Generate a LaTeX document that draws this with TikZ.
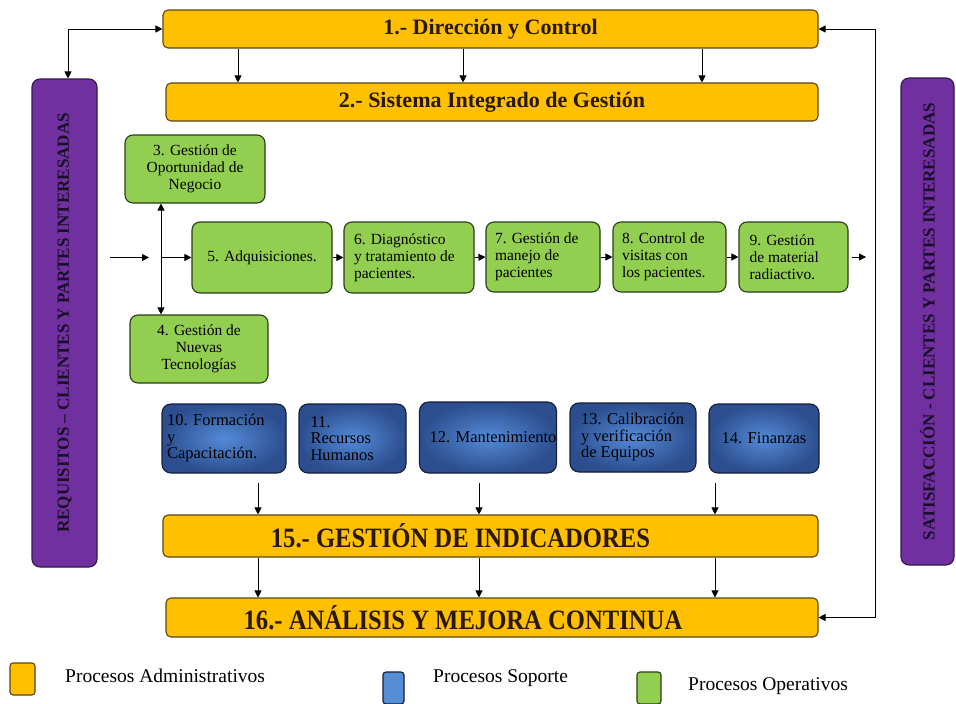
\documentclass[tikz,border=0pt]{standalone}
\usepackage{fontspec}
\setmainfont{Liberation Serif}
\usetikzlibrary{arrows.meta}

\definecolor{admfill}{RGB}{255,192,0}
\definecolor{admline}{RGB}{90,70,20}
\definecolor{admtext}{RGB}{40,24,5}
\definecolor{opfill}{RGB}{146,206,80}
\definecolor{opline}{RGB}{45,60,25}
\definecolor{sopdark}{RGB}{44,78,142}
\definecolor{soplight}{RGB}{84,138,216}
\definecolor{sopline}{RGB}{20,30,55}
\definecolor{soplegend}{RGB}{85,142,213}
\definecolor{reqfill}{RGB}{112,48,160}
\definecolor{reqline}{RGB}{50,25,70}
\definecolor{reqtext}{RGB}{25,15,40}

\tikzset{
  admbox/.style={draw=admline, fill=admfill, line width=1.1pt, rounded corners=5pt,
    inner sep=0pt, text=admtext, font=\fontsize{22}{24}\selectfont\bfseries},
  bigadm/.style={admbox, font=\fontsize{28}{30}\selectfont\bfseries},
  opbox/.style={draw=opline, fill=opfill, line width=1.1pt, rounded corners=8pt,
    inner sep=0pt, font=\fontsize{15.5}{17}\selectfont},
  sopbox/.style={draw=sopline, inner color=soplight, outer color=sopdark,
    line width=1.1pt, rounded corners=9pt,
    inner sep=0pt, font=\fontsize{16.5}{16.5}\selectfont},
  sidebox/.style={draw=reqline, fill=reqfill, line width=1.1pt, rounded corners=8pt,
    inner sep=0pt},
  sidetext/.style={rotate=90, text=reqtext, font=\fontsize{17}{18}\selectfont\bfseries},
  flow/.style={-{Triangle[length=7pt,width=7pt]}, line width=0.8pt},
  flowboth/.style={{Triangle[length=7pt,width=7pt]}-{Triangle[length=7pt,width=7pt]}, line width=0.8pt},
  legendbox/.style={draw=admline, line width=1.1pt, rounded corners=3pt, inner sep=0pt},
  legendtext/.style={anchor=west, inner sep=0pt, font=\fontsize{19.5}{21}\selectfont},
}

\begin{document}
\begin{tikzpicture}[x=1pt, y=-1pt]
\useasboundingbox[fill=white] (0,0) rectangle (956,704);

% administrative bands
\node[admbox, minimum width=655pt, minimum height=38pt] (b1) at (490.5,29) {1.- Dirección y Control};
\node[admbox, minimum width=652pt, minimum height=38pt] (b2) at (492,102) {2.- Sistema Integrado de Gestión};
\node[bigadm, minimum width=655pt, minimum height=42pt] (b15) at (490.5,536)
  {\hspace*{-60pt}\scalebox{0.88}[1]{15.- GESTIÓN DE INDICADORES}};
\node[bigadm, minimum width=652pt, minimum height=39pt] (b16) at (492,617.5)
  {\hspace*{-58pt}\scalebox{0.88}[1]{16.- ANÁLISIS Y MEJORA CONTINUA}};

% side columns
\node[sidebox, minimum width=65pt, minimum height=488pt] (req) at (64.5,323) {};
\node[sidetext] (reqt) at (req.center) {REQUISITOS – CLIENTES Y PARTES INTERESADAS};
\node[sidebox, minimum width=53pt, minimum height=487pt] (sat) at (927.5,321.5) {};
\node[sidetext] (satt) at (sat.center) {SATISFACCIÓN - CLIENTES Y PARTES INTERESADAS};

% operative processes
\node[opbox, minimum width=140pt, minimum height=68pt, align=center] (g3) at (195,169)
  {3. Gestión de\\Oportunidad de\\Negocio};
\node[opbox, minimum width=138pt, minimum height=68pt, align=center] (g4) at (199,349)
  {4. Gestión de\\Nuevas\\Tecnologías};
\node[opbox, minimum width=140pt, minimum height=71pt, align=center] (g5) at (262,257.5)
  {5. Adquisiciones.};
\node[opbox, minimum width=130pt, minimum height=71pt] (g6) at (409,257.5)
  {\parbox{110pt}{\raggedright 6. Diagnóstico\\y tratamiento de\\pacientes.}};
\node[opbox, minimum width=114pt, minimum height=70pt] (g7) at (543,257)
  {\parbox{96pt}{\raggedright 7. Gestión de\\manejo de\\pacientes}};
\node[opbox, minimum width=113pt, minimum height=70pt] (g8) at (669.5,257)
  {\parbox{95pt}{\raggedright 8. Control de\\visitas con\\los pacientes.}};
\node[opbox, minimum width=109pt, minimum height=70pt] (g9) at (793.5,257)
  {\parbox{88pt}{\raggedright 9. Gestión\\de material\\radiactivo.}};

% support processes
\node[sopbox, minimum width=124pt, minimum height=69pt] (s10) at (224,438.5)
  {\parbox{114pt}{\raggedright 10. Formación\\y\\Capacitación.}};
\node[sopbox, minimum width=107pt, minimum height=69pt] (s11) at (352.5,438.5)
  {\parbox{84pt}{\raggedright 11.\\Recursos\\Humanos}};
\node[sopbox, minimum width=134pt, minimum height=71pt] (s12) at (488,437.5)
  {\hspace{10pt}12. Mantenimiento};
\node[sopbox, minimum width=126pt, minimum height=69pt] (s13) at (633,437.5)
  {\parbox{104pt}{\raggedright 13. Calibración\\y verificación\\de Equipos}};
\node[sopbox, minimum width=110pt, minimum height=69pt] (s14) at (764,438.5)
  {14. Finanzas};

% helper coordinates for connector columns
\coordinate (xa) at (238,0);
\coordinate (xb) at (463,0);
\coordinate (xc) at (702,0);
\coordinate (rx) at (875,0);
\coordinate (vx) at (161,0);
\coordinate (in0) at (110,257.5);
\coordinate (in1) at (149,257.5);
\coordinate (out0) at (852,257);
\coordinate (out1) at (866,257);
\coordinate (lx) at (68,0);
\coordinate (p1) at (258,483);
\coordinate (p2) at (479,483);
\coordinate (p3) at (715,483);

% direction to integrated system
\draw[flow] (xa |- b1.south) -- (xa |- b2.north);
\draw[flow] (xb |- b1.south) -- (xb |- b2.north);
\draw[flow] (xc |- b1.south) -- (xc |- b2.north);

% feedback loops
\draw[flowboth] (lx |- req.north) -- (lx |- b1.west) -- (b1.west);
\draw[flowboth] (b1.east) -- (b1.east -| rx) -- (b16.east -| rx) -- (b16.east);

% operative chain
\draw[flow] (in0) -- (in1);
\draw[flowboth] (vx |- g3.south) -- (vx |- g4.north);
\draw[flow] (vx |- g5.west) -- (g5.west);
\draw[flow] (g5.east) -- (g6.west);
\draw[flow] (g6.east) -- (g7.west);
\draw[flow] (g7.east) -- (g8.west);
\draw[flow] (g8.east) -- (g9.west);
\draw[flow] (out0) -- (out1);

% indicators
\draw[flow] (p1) -- (p1 |- b15.north);
\draw[flow] (p2) -- (p2 |- b15.north);
\draw[flow] (p3) -- (p3 |- b15.north);
\draw[flow] (p1 |- b15.south) -- (p1 |- b16.north);
\draw[flow] (p2 |- b15.south) -- (p2 |- b16.north);
\draw[flow] (p3 |- b15.south) -- (p3 |- b16.north);

% legend
\node[legendbox, fill=admfill, minimum width=25pt, minimum height=32pt] (ladm) at (22.5,679) {};
\node[legendtext] (tadm) at (65,676) {Procesos Administrativos};
\node[legendbox, draw=sopline, fill=soplegend, minimum width=21pt, minimum height=32pt] (lsop) at (393.5,688) {};
\node[legendtext] (tsop) at (433,678) {Procesos Soporte};
\node[legendbox, draw=opline, fill=opfill, minimum width=24pt, minimum height=32pt] (lop) at (649,688) {};
\node[legendtext] (top) at (688,686) {Procesos Operativos};
\end{tikzpicture}
\end{document}
